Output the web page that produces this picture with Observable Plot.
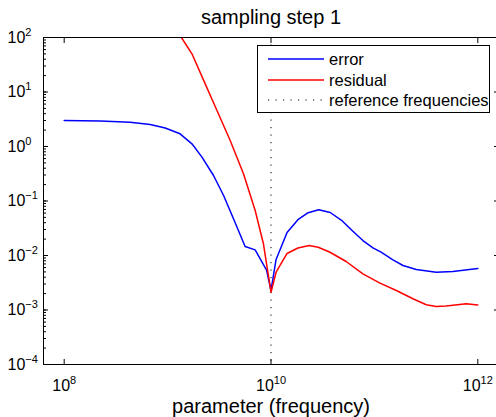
<!DOCTYPE html>
<html>
<head>
<meta charset="utf-8">
<script src="https://cdn.jsdelivr.net/npm/d3@7"></script>
<script src="https://cdn.jsdelivr.net/npm/@observablehq/plot@0.6"></script>
<style>
  html, body { margin: 0; padding: 0; background: #fff; overflow: hidden; }
  #wrap { position: relative; width: 496px; height: 417px; overflow: hidden; }
  #legend {
    position: absolute; left: 257px; top: 45px; width: 233px; height: 68px;
    box-sizing: border-box; border: 1px solid #000; background: #fff;
    font-family: "Liberation Sans", Arial, Helvetica, sans-serif; font-size: 16.5px; color: #000;
  }
  #legend .row { position: absolute; left: 0; height: 20px; white-space: nowrap; }
  #legend svg { position: absolute; left: 9px; top: 0; }
  #legend span { position: absolute; left: 71px; top: 0; line-height: 20px; }
</style>
</head>
<body>
<div id="wrap"></div>
<script>
// ---- data ----
const titleText = "sampling step 1";
const xLabelText = "parameter (frequency)";
const seriesNames = ["error", "residual", "reference frequencies"];

const errorFreq = [1.00e8, 2.23e8, 4.35e8, 6.79e8, 9.48e8, 1.32e9, 1.72e9, 2.15e9, 2.78e9, 3.48e9,
  4.41e9, 5.62e9, 7.03e9, 9.08e9, 1.00e10, 1.12e10, 1.43e10, 1.82e10, 2.29e10, 2.89e10,
  3.74e10, 4.89e10, 6.19e10, 7.74e10, 9.68e10, 1.16e11, 1.51e11, 1.89e11, 2.54e11, 3.96e11,
  5.74e11, 1.00e12];
const errorVals = [3.0, 2.94, 2.79, 2.54, 2.18, 1.71, 1.12, 0.637, 0.294, 0.126,
  0.0439, 0.0146, 0.0127, 0.00531, 0.00228, 0.00845, 0.0264, 0.0454, 0.0610, 0.0690,
  0.0615, 0.0430, 0.0279, 0.0188, 0.0138, 0.0115, 0.00834, 0.00656, 0.00554, 0.00494,
  0.00508, 0.00577];

const residualFreq = [6.79e8, 1.36e9, 1.72e9, 2.31e9, 3.10e9, 4.03e9, 5.42e9, 7.03e9, 8.45e9, 1.00e10,
  1.12e10, 1.43e10, 1.82e10, 2.34e10, 2.86e10, 3.68e10, 5.33e10, 7.74e10, 1.12e11, 1.63e11,
  2.36e11, 3.17e11, 3.96e11, 4.94e11, 7.73e11, 1.00e12];
const residualVals = [590, 100, 50.2, 14.1, 3.98, 1.29, 0.316, 0.0670, 0.0164, 0.00212,
  0.00494, 0.0109, 0.01374, 0.01525, 0.01413, 0.01159, 0.00776, 0.00461, 0.00315, 0.00228,
  0.00161, 0.00125, 0.00116, 0.00119, 0.00130, 0.00124];

const referenceFrequencies = [1e10];

const xMajorTicks = [1e8, 1e10, 1e12];
const yMajorTicks = [1e-4, 1e-3, 1e-2, 1e-1, 1e0, 1e1, 1e2];
const xDomain = [10 ** 7.8, 10 ** 12.2];
const yDomain = [1e-4, 1e2];

const colors = { error: "#0000ff", residual: "#ff0000", ref: "#000000" };
const FONT = '"Liberation Sans", Arial, Helvetica, sans-serif';

// ---- build tables ----
const errorData = errorFreq.map((f, i) => ({ f, v: errorVals[i] }));
const residualData = residualFreq.map((f, i) => ({ f, v: residualVals[i] }));

const expFormat = d => "10^" + Math.round(Math.log10(d));

const chart = Plot.plot({
  width: 496,
  height: 417,
  marginTop: 37,
  marginBottom: 53,
  marginLeft: 43,
  marginRight: -2,
  style: { fontFamily: FONT, fontSize: "16px", color: "#000", background: "transparent" },
  x: { type: "log", domain: xDomain, label: null },
  y: { type: "log", domain: yDomain, label: null },
  marks: [
    Plot.ruleX(referenceFrequencies, { stroke: colors.ref, strokeWidth: 1, strokeDasharray: "1.2,6.3" }),
    Plot.line(errorData, { x: "f", y: "v", stroke: colors.error, strokeWidth: 1.5, clip: true }),
    Plot.line(residualData, { x: "f", y: "v", stroke: colors.residual, strokeWidth: 1.5, clip: true }),
    // minor + major ticks on the left (inward)
    Plot.axisY({ anchor: "left", ticks: 40, tickSize: -3, fill: null, label: null, stroke: "#000" }),
    Plot.axisY(yMajorTicks, { anchor: "left", tickSize: -5, fill: null, label: null, stroke: "#000" }),
    Plot.axisY(yMajorTicks, { anchor: "right", tickSize: -5, fill: null, label: null, stroke: "#000" }),
    Plot.axisY(yMajorTicks, { anchor: "left", tickSize: 0, tickPadding: 36, textAnchor: "start", tickFormat: expFormat, fontSize: 16, label: null, fill: "#000" }),
    Plot.axisX(xMajorTicks, { anchor: "bottom", tickSize: -5, fill: null, label: null, stroke: "#000" }),
    Plot.axisX(xMajorTicks, { anchor: "top", tickSize: -5, fill: null, label: null, stroke: "#000" }),
    Plot.axisX(xMajorTicks, { anchor: "bottom", tickSize: 0, tickPadding: 15, tickFormat: expFormat, fontSize: 16, label: null, fill: "#000" }),
    Plot.frame({ stroke: "#000", strokeWidth: 1 }),
    Plot.text([titleText], { text: d => d, frameAnchor: "top", lineAnchor: "middle", dy: -19.5, fontSize: 20, fill: "#000" }),
    Plot.text([xLabelText], { text: d => d, frameAnchor: "bottom", lineAnchor: "middle", dy: 42, fontSize: 20, fill: "#000" })
  ]
});

// superscript exponents on tick labels
chart.querySelectorAll('g[aria-label="x-axis tick label"] text, g[aria-label="y-axis tick label"] text').forEach(t => {
  const s = t.textContent;
  if (!s.includes("^")) return;
  const [base, e] = s.split("^");
  const exp = e.replace("-", "\u2212");
  while (t.firstChild) t.removeChild(t.firstChild);
  t.appendChild(document.createTextNode(base));
  const ts = document.createElementNS("http://www.w3.org/2000/svg", "tspan");
  ts.setAttribute("font-size", "11");
  ts.setAttribute("dy", "-7");
  ts.textContent = exp;
  t.appendChild(ts);
});

const wrap = document.getElementById("wrap");
wrap.appendChild(chart);

// legend (HTML overlay)
const legend = document.createElement("div");
legend.id = "legend";
const rowTops = [3, 24, 44];
const styles = [
  { stroke: colors.error, dash: null, w: 1.5 },
  { stroke: colors.residual, dash: null, w: 1.5 },
  { stroke: colors.ref, dash: "1.2,6.3", w: 1 }
];
seriesNames.forEach((name, i) => {
  const row = document.createElement("div");
  row.className = "row";
  row.style.top = rowTops[i] + "px";
  const st = styles[i];
  row.innerHTML = `<svg width="58" height="20"><line x1="1" x2="57" y1="10" y2="10" stroke="${st.stroke}" stroke-width="${st.w}" ${st.dash ? `stroke-dasharray="${st.dash}"` : ""}/></svg><span>${name}</span>`;
  legend.appendChild(row);
});
wrap.appendChild(legend);
</script>
</body>
</html>
